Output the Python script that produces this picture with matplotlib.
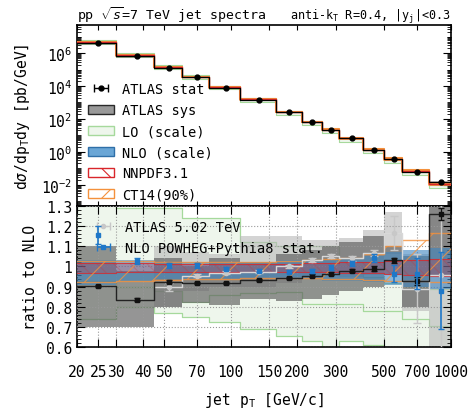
import numpy as np
import matplotlib
matplotlib.use('Agg')
from matplotlib import pyplot as plt
from matplotlib.ticker import FixedLocator, NullLocator, NullFormatter, FixedFormatter, MultipleLocator, LogLocator

plt.rcParams['font.family'] = ['DejaVu Sans Mono']
plt.rcParams['mathtext.fontset'] = 'custom'
plt.rcParams['mathtext.rm'] = 'DejaVu Sans Mono'
plt.rcParams['mathtext.it'] = 'DejaVu Sans Mono:italic'
plt.rcParams['mathtext.bf'] = 'DejaVu Sans Mono:bold'
plt.rcParams['hatch.linewidth'] = 0.8

# =============================================================================
# data
# =============================================================================
edges = [20, 30, 45, 60, 80, 110, 160, 210, 260, 310, 400, 500, 600, 800, 1000]
centers = [25, 37.5, 52.5, 70, 95, 135, 185, 235, 285, 355, 450, 550, 700, 900]

# NLO cross section [pb/GeV]
nlo_xsec = [4.6e6, 7.6e5, 1.45e5, 3.7e4, 8.5e3, 1.6e3, 2.6e2, 65, 22, 6.6, 1.35, 0.36, 0.066, 0.011]

# ratios to NLO
lo_hi = [1.36, 1.29, 1.29, 1.24, 1.24, 1.12, 1.10, 1.10, 1.10, 1.00, 0.95, 0.92, 0.90, 0.89]
lo_mid = [0.93, 0.90, 0.88, 0.825, 0.86, 0.87, 0.875, 0.815, 0.815, 0.815, 0.78, 0.78, 0.74, 0.705]
lo_lo = [0.74, 0.80, 0.77, 0.75, 0.725, 0.69, 0.657, 0.63, 0.60, 0.63, 0.61, 0.58, 0.56, 0.55]

nlo_lo = [0.91, 0.93, 0.94, 0.94, 0.94, 0.94, 0.94, 0.94, 0.93, 0.93, 0.925, 0.91, 0.90, 0.89]
nlo_hi = [1.03, 1.03, 1.02, 1.02, 1.02, 1.02, 1.03, 1.03, 1.03, 1.04, 1.05, 1.07, 1.08, 1.09]

nnpdf_lo = [0.97, 0.975, 0.975, 0.975, 0.975, 0.975, 0.975, 0.975, 0.975, 0.97, 0.97, 0.965, 0.96, 0.955]
nnpdf_hi = [1.015, 1.015, 1.01, 1.01, 1.01, 1.01, 1.01, 1.015, 1.015, 1.02, 1.02, 1.025, 1.03, 1.035]

ct14_lo = [0.925, 0.93, 0.935, 0.94, 0.94, 0.945, 0.945, 0.945, 0.94, 0.94, 0.935, 0.93, 0.93, 0.925]
ct14_hi = [1.025, 1.025, 1.02, 1.02, 1.02, 1.02, 1.025, 1.03, 1.035, 1.04, 1.06, 1.10, 1.13, 1.165]

# ATLAS 7 TeV / NLO
atlas7 = [0.905, 0.835, 0.925, 0.92, 0.92, 0.935, 0.945, 0.955, 0.965, 0.98, 0.99, 1.03, 0.93, 1.26]
atlas7_stat = [0.005, 0.008, 0.008, 0.005, 0.005, 0.005, 0.005, 0.006, 0.007, 0.008, 0.01, 0.012, 0.02, 0.03]
atlas7_sys_lo = [0.70, 0.70, 0.80, 0.82, 0.81, 0.84, 0.83, 0.84, 0.86, 0.88, 0.90, 0.96, 0.80, 0.95]
atlas7_sys_hi = [1.10, 0.98, 1.04, 1.00, 1.04, 1.02, 1.06, 1.08, 1.10, 1.12, 1.15, 1.10, 1.05, 1.50]

# ATLAS 5.02 TeV / NLO
atlas5 = [np.nan, np.nan, 0.90, 0.955, 0.97, 0.975, 1.0, 1.03, 1.05, 1.04, 1.065, 1.165, 0.89, 0.96]
atlas5_stat = [0, 0, 0.02, 0.008, 0.008, 0.008, 0.008, 0.01, 0.01, 0.012, 0.015, 0.085, 0.17, 0.6]
atlas5_sys_lo = [np.nan, np.nan, 0.80, 0.88, 0.90, 0.90, 0.92, 0.94, 0.96, 0.95, 0.96, 1.06, 0.78, 0.60]
atlas5_sys_hi = [np.nan, np.nan, 1.10, 1.07, 1.06, 1.15, 1.15, 1.13, 1.13, 1.14, 1.18, 1.27, 1.06, 1.30]

# POWHEG+Pythia8 / NLO
powheg = [1.155, 1.025, 1.005, 1.005, 0.99, 0.98, 0.975, 0.98, 0.995, 1.015, 1.04, 0.965, 0.965, 0.88]
powheg_stat = [0.045, 0.015, 0.012, 0.01, 0.008, 0.008, 0.008, 0.01, 0.01, 0.012, 0.02, 0.04, 0.075, 0.19]

xticks = [20, 25, 30, 40, 50, 70, 100, 150, 200, 300, 500, 700, 1000]


# =============================================================================
# helpers
# =============================================================================
def stepvals(v):
    v = list(v)
    return np.array(v + [v[-1]], dtype=float)


def band(ax, lo, hi, scale=None, **kw):
    lo = stepvals(lo)
    hi = stepvals(hi)
    if scale is not None:
        lo = lo * stepvals(scale)
        hi = hi * stepvals(scale)
    return ax.fill_between(edges, lo, hi, step='post', **kw)


def stepline(ax, v, scale=None, **kw):
    v = stepvals(v)
    if scale is not None:
        v = v * stepvals(scale)
    return ax.step(edges, v, where='post', **kw)


green_fill = '#eef6ec'
green_line = '#a6d99c'
blue_fill = '#3d85c0'
red = '#d9262b'
orange = '#f4913c'

fig = plt.figure(figsize=(4.69, 4.10), dpi=100)
ax = fig.add_axes([0.164, 0.495, 0.797, 0.441])
rx = fig.add_axes([0.164, 0.151, 0.797, 0.344], sharex=ax)

# =============================================================================
# top panel: spectra
# =============================================================================
nlo = np.array(nlo_xsec)
band(ax, lo_lo, lo_hi, scale=nlo, facecolor=green_fill, edgecolor='none', zorder=1)
stepline(ax, lo_lo, scale=nlo, color=green_line, lw=0.8, zorder=1)
stepline(ax, lo_hi, scale=nlo, color=green_line, lw=0.8, zorder=1)
band(ax, atlas7_sys_lo, atlas7_sys_hi, scale=nlo, facecolor='gray', alpha=0.5, edgecolor='none', zorder=2)
band(ax, nlo_lo, nlo_hi, scale=nlo, facecolor=blue_fill, alpha=0.6, edgecolor='none', zorder=3)
band(ax, ct14_lo, ct14_hi, scale=nlo, facecolor='none', edgecolor=orange, lw=1.2, zorder=4)
stepline(ax, ct14_hi, scale=nlo, color=orange, lw=1.5, zorder=4)
stepline(ax, nnpdf_hi, scale=nlo, color=red, lw=1.0, zorder=5)
stepline(ax, atlas7, scale=nlo, color='k', lw=0.9, zorder=6)
a7 = np.array(atlas7) * nlo
ax.errorbar(centers, a7, yerr=np.array(atlas7_stat) * nlo, fmt='o', color='k', ms=3.5, capsize=0, lw=1, zorder=7)

ax.set_xscale('log')
ax.set_yscale('log')
ax.set_xlim(20, 1000)
ax.set_ylim(5e-4, 5e7)
ax.yaxis.set_major_locator(FixedLocator([1e-2, 1e0, 1e2, 1e4, 1e6]))
ax.yaxis.set_minor_locator(LogLocator(base=10, subs=np.arange(1, 10), numticks=30))
ax.yaxis.set_minor_formatter(NullFormatter())
ax.tick_params(axis='both', which='both', direction='in', top=True, right=True, labelsize=10.5)
ax.tick_params(axis='y', which='major', length=6)
ax.tick_params(axis='y', which='minor', length=3)
ax.tick_params(axis='x', labelbottom=False)
ax.set_ylabel(r'd$\sigma$/dp$_\mathrm{T}$dy [pb/GeV]', fontsize=10.5)
ax.yaxis.set_label_coords(-0.12, 0.5)
ax.set_title(r'pp $\sqrt{s}$=7 TeV jet spectra', loc='left', fontsize=9.5, pad=4)
ax.set_title(r'anti-k$_\mathrm{T}$ R=0.4, |y$_\mathrm{j}$|<0.3', loc='right', fontsize=8.5, pad=4)

# legend proxies
h_stat = ax.errorbar([np.nan], [np.nan], xerr=[1], fmt='o', color='k', ms=3.5, capsize=3, lw=1)
h_sys = plt.Rectangle((0, 0), 1, 1, facecolor='gray', alpha=0.8, edgecolor='k', lw=1)
h_lo = plt.Rectangle((0, 0), 1, 1, facecolor=green_fill, edgecolor=green_line, lw=1)
h_nlo = plt.Rectangle((0, 0), 1, 1, facecolor='#6aa6d6', edgecolor='#2f6fa8', lw=1)
h_nn = plt.Rectangle((0, 0), 1, 1, facecolor='none', edgecolor=red, hatch='\\', lw=1)
h_ct = plt.Rectangle((0, 0), 1, 1, facecolor='none', edgecolor=orange, hatch='/', lw=1)
ax.legend([h_stat, h_sys, h_lo, h_nlo, h_nn, h_ct],
          ['ATLAS stat', 'ATLAS sys', 'LO (scale)', 'NLO (scale)', 'NNPDF3.1', 'CT14(90%)'],
          loc='lower left', bbox_to_anchor=(0.0, -0.035), frameon=False, fontsize=9.8,
          handlelength=1.9, handletextpad=0.6, labelspacing=0.52, borderaxespad=0.4)

# =============================================================================
# bottom panel: ratio to NLO
# =============================================================================
band(rx, lo_lo, lo_hi, facecolor=green_fill, edgecolor='none', zorder=1)
for v in (lo_lo, lo_mid, lo_hi):
    stepline(rx, v, color=green_line, lw=0.9, zorder=1.1)
band(rx, atlas5_sys_lo, atlas5_sys_hi, facecolor='#b8b8b8', alpha=0.6, edgecolor='none', zorder=2)
band(rx, atlas7_sys_lo, atlas7_sys_hi, facecolor='#5c5c5c', alpha=0.65, edgecolor='none', zorder=2.1)
band(rx, nlo_lo, nlo_hi, facecolor=blue_fill, alpha=0.6, edgecolor='none', zorder=3)
band(rx, nnpdf_lo, nnpdf_hi, facecolor=red, alpha=0.25, edgecolor=red, hatch='\\\\', lw=0, zorder=4)
stepline(rx, nnpdf_lo, color=red, lw=0.8, alpha=0.8, zorder=4)
stepline(rx, nnpdf_hi, color=red, lw=0.8, alpha=0.8, zorder=4)
band(rx, ct14_lo, ct14_hi, facecolor='none', edgecolor=orange, hatch='/', lw=0, alpha=0.8, zorder=4.5)
stepline(rx, ct14_lo, color=orange, lw=1.0, alpha=0.8, zorder=4.5)
stepline(rx, ct14_hi, color=orange, lw=1.0, alpha=0.8, zorder=4.5)

stepline(rx, atlas5, color='#d8d8d8', lw=1.0, zorder=5)
rx.errorbar(centers, atlas5, yerr=atlas5_stat, fmt='o', color='#c8c8c8', ms=3, capsize=3, lw=1, zorder=5)
stepline(rx, atlas7, color='#222222', lw=1.0, zorder=6)
rx.errorbar(centers, atlas7, yerr=atlas7_stat, fmt='s', color='#111111', ms=3.5, capsize=2, lw=1, zorder=6)
rx.errorbar(centers, powheg, yerr=powheg_stat, fmt='s', color='#1f78c8', ms=3.5, capsize=2.5, lw=1.2, zorder=7)

h5 = rx.errorbar([np.nan], [np.nan], xerr=[1], fmt='o', color='#c8c8c8', ms=3, capsize=3, lw=1)
hp = rx.errorbar([np.nan], [np.nan], xerr=[1], fmt='s', color='#1f78c8', ms=3.5, capsize=3, lw=1.2)
rx.legend([h5, hp], ['ATLAS 5.02 TeV', 'NLO POWHEG+Pythia8 stat.'], loc='upper left',
          bbox_to_anchor=(0.0, 1.0), frameon=False, fontsize=9.8,
          handlelength=1.9, handletextpad=0.6, labelspacing=0.55, borderaxespad=0.6)

rx.set_xscale('log')
rx.set_xlim(20, 1000)
rx.set_ylim(0.6, 1.3)
rx.xaxis.set_major_locator(FixedLocator(xticks))
rx.xaxis.set_major_formatter(FixedFormatter([str(t) for t in xticks]))
rx.xaxis.set_minor_locator(NullLocator())
rx.yaxis.set_major_locator(MultipleLocator(0.1))
rx.yaxis.set_major_formatter(plt.FuncFormatter(lambda v, p: '%g' % round(v, 2)))
rx.yaxis.set_minor_locator(MultipleLocator(0.02))
rx.tick_params(axis='both', which='both', direction='in', top=True, right=True, labelsize=10.5)
rx.tick_params(axis='both', which='major', length=6)
rx.tick_params(axis='y', which='minor', length=3)
rx.tick_params(axis='x', pad=12)
rx.grid(True, which='major', ls=':', color='#999999', lw=0.8)
rx.set_axisbelow(False)
rx.set_ylabel('ratio to NLO', fontsize=10.5)
rx.yaxis.set_label_coords(-0.103, 0.5)
rx.set_xlabel(r'jet p$_\mathrm{T}$ [GeV/c]', fontsize=10.5, labelpad=8)

for a in (ax, rx):
    for s in a.spines.values():
        s.set_linewidth(1.2)

fig.savefig('out.png', dpi=100)
